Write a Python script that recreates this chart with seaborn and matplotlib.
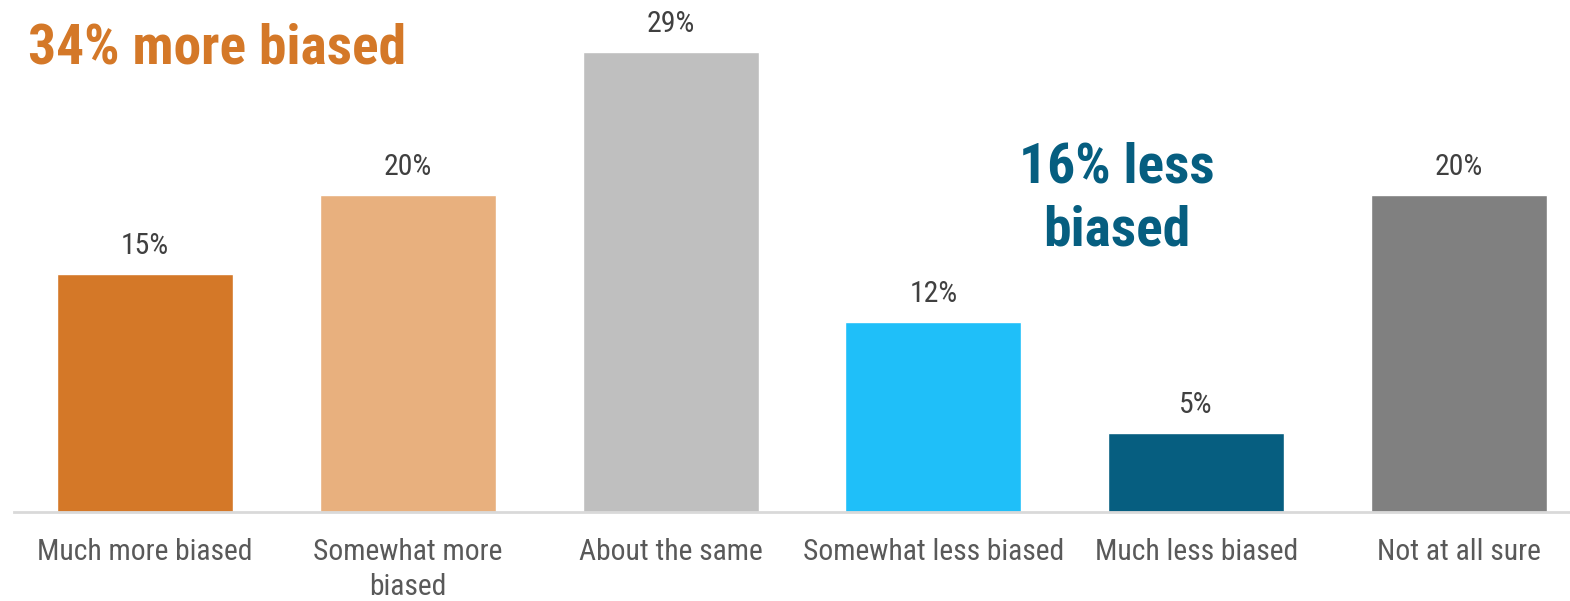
import pandas as pd
import numpy as np
import seaborn as sns
import matplotlib.pyplot as plt

# Chart data
categories = ["Much more biased", "Somewhat more\nbiased", "About the same",
              "Somewhat less biased", "Much less biased", "Not at all sure"]
values = [15, 20, 29, 12, 5, 20]
colors = ["#D47828", "#E8B07E", "#BFBFBF", "#1FBFF9", "#065E80", "#808080"]

df = pd.DataFrame({"answer": categories, "pct": values})

sns.set_style("white")
plt.rcParams['font.family'] = ['Roboto Condensed', 'DejaVu Sans']

fig = plt.figure(figsize=(15.7, 6.01), dpi=100)
W, H = 1570, 601
# axes placed in pixels: x=-0.5 at 13.6px, 262.8px per bar, baseline at 512px
ax = fig.add_axes([13.6 / W, (H - 512) / H, 6 * 262.8 / W, 507.5 / H])

sns.barplot(data=df, x="answer", y="pct", hue="answer", palette=colors,
            width=0.67, legend=False, ax=ax, saturation=1)

ax.set_xlim(-0.5, 5.5)
ax.set_ylim(0, 32)

for c in ax.containers:
    ax.bar_label(c, labels=[f"{v:.0f}%" for v in c.datavalues],
                 padding=10, fontsize=21.5, color="#404040")

ax.set_xlabel("")
ax.set_ylabel("")
ax.set_yticks([])
ax.tick_params(axis="x", length=0, pad=19, labelsize=21.3, labelcolor="#595959")
for lbl in ax.get_xticklabels():
    lbl.set_linespacing(1.3)
for s in ["top", "right", "left"]:
    ax.spines[s].set_visible(False)
ax.spines["bottom"].set_color("#D9D9D9")
ax.spines["bottom"].set_linewidth(2)

# Group annotations
fig.text(28 / W, 1 - 63 / H, "34% more biased", fontsize=40, fontweight="bold",
         color="#D47828", ha="left", va="baseline")
fig.text(1117 / W, 1 - 199 / H, "16% less\nbiased", fontsize=40, fontweight="bold",
         color="#065E80", ha="center", va="center", linespacing=1.25)

plt.savefig("out.png", dpi=100)
